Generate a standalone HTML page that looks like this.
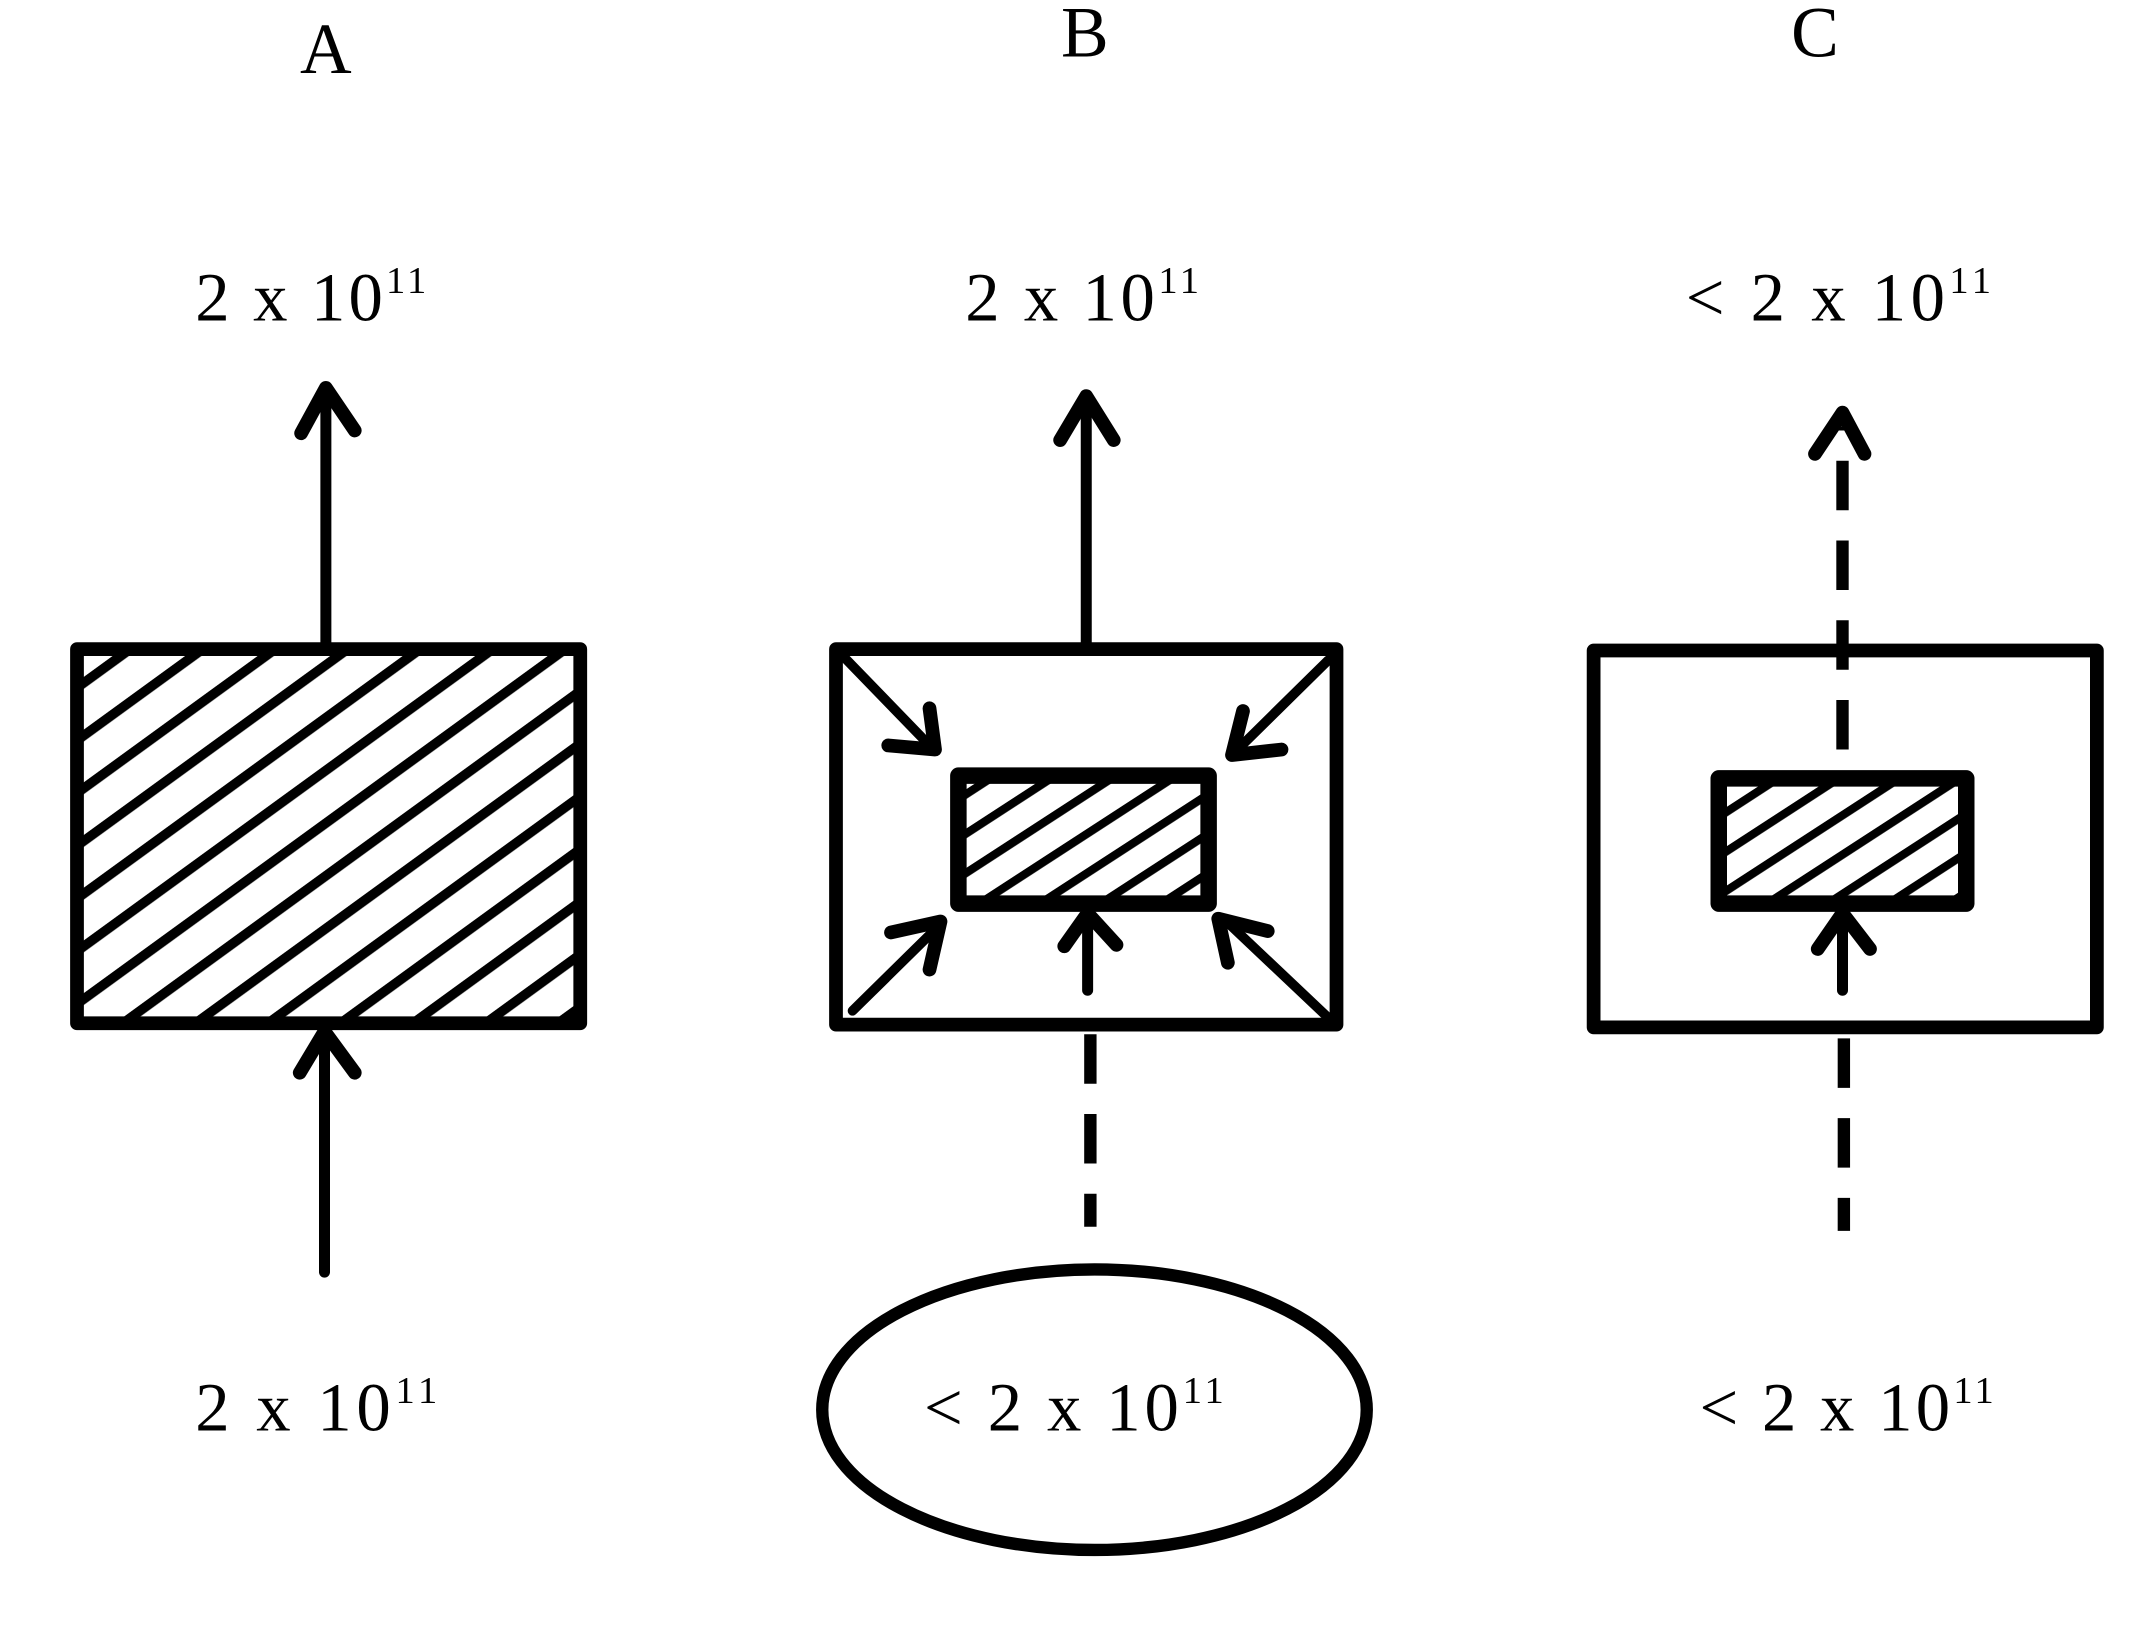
<!DOCTYPE html>
<html><head><meta charset="utf-8"><style>
html,body{margin:0;padding:0;background:#fff;}
svg{display:block;}
text{font-family:"Liberation Serif",serif;fill:#000;}
</style></head><body>
<svg width="2156" height="1638" viewBox="0 0 1568 1191" preserveAspectRatio="none" xmlns="http://www.w3.org/2000/svg">
<defs>
<pattern id="h" patternUnits="userSpaceOnUse" width="31" height="31" patternTransform="rotate(-36)">
<rect width="31" height="31" fill="#fff"/>
<rect x="0" y="0" width="31" height="7" fill="#000"/>
</pattern>
<pattern id="h2" patternUnits="userSpaceOnUse" width="24" height="24" patternTransform="rotate(-33)">
<rect width="24" height="24" fill="#fff"/>
<rect x="0" y="0" width="24" height="6" fill="#000"/>
</pattern>
</defs>
<g font-size="52" text-anchor="middle">
<text x="237" y="53">A</text>
<text x="789" y="41">B</text>
<text x="1320" y="41">C</text>
</g>
<g font-size="50">
<text x="142" y="233" textLength="168" lengthAdjust="spacing">2 x 10<tspan font-size="28" dy="-20">11</tspan></text>
<text x="702" y="233" textLength="170" lengthAdjust="spacing">2 x 10<tspan font-size="28" dy="-20">11</tspan></text>
<text x="1226" y="233" textLength="222" lengthAdjust="spacing">&lt; 2 x 10<tspan font-size="28" dy="-20">11</tspan></text>
<text x="142" y="1040" textLength="176" lengthAdjust="spacing">2 x 10<tspan font-size="28" dy="-20">11</tspan></text>
<text x="672" y="1040" textLength="218" lengthAdjust="spacing">&lt; 2 x 10<tspan font-size="28" dy="-20">11</tspan></text>
<text x="1236" y="1040" textLength="214" lengthAdjust="spacing">&lt; 2 x 10<tspan font-size="28" dy="-20">11</tspan></text>
</g>
<g stroke="#000" fill="none" stroke-linecap="round" stroke-linejoin="round">
<!-- A -->
<rect x="56" y="472" width="366" height="272" fill="url(#h)" stroke-width="10"/>
<line x1="237" y1="468" x2="237" y2="285" stroke-width="8"/>
<polyline points="219,315 237,282 258,313" stroke-width="10"/>
<line x1="236" y1="925" x2="236" y2="752" stroke-width="8"/>
<polyline points="218,780 236,750 258,780" stroke-width="10"/>
<!-- B -->
<rect x="608" y="472" width="364" height="273" stroke-width="10"/>
<rect x="697" y="564" width="182" height="93" fill="url(#h2)" stroke-width="12"/>
<line x1="790" y1="468" x2="790" y2="290" stroke-width="8"/>
<polyline points="771,320 790,288 810,320" stroke-width="10"/>
<line x1="614" y1="478" x2="678" y2="544" stroke-width="7"/>
<polyline points="646,542 680,545 676,515" stroke-width="10"/>
<line x1="966" y1="480" x2="897" y2="548" stroke-width="7"/>
<polyline points="904,517 896,549 932,545" stroke-width="10"/>
<line x1="620" y1="735" x2="684" y2="672" stroke-width="7"/>
<polyline points="648,678 684,670 676,705" stroke-width="10"/>
<line x1="966" y1="740" x2="892" y2="670" stroke-width="7"/>
<polyline points="893,700 886,668 922,677" stroke-width="10"/>
<line x1="791" y1="720" x2="791" y2="668" stroke-width="8"/>
<polyline points="774,688 791,664 812,687" stroke-width="10"/>
<line x1="793" y1="752" x2="793" y2="892" stroke-width="9" stroke-dasharray="36,22" stroke-linecap="butt"/>
<ellipse cx="796" cy="1025" rx="198" ry="102" stroke-width="9"/>
<!-- C -->
<rect x="1159" y="473" width="366" height="274" stroke-width="10"/>
<rect x="1250" y="566" width="180" height="91" fill="url(#h2)" stroke-width="12"/>
<line x1="1340" y1="545" x2="1340" y2="310" stroke-width="9" stroke-dasharray="36,22" stroke-linecap="butt"/>
<polyline points="1320,330 1340,300 1356,330" stroke-width="10"/>
<line x1="1340" y1="720" x2="1340" y2="668" stroke-width="8"/>
<polyline points="1322,690 1340,664 1360,690" stroke-width="10"/>
<line x1="1341" y1="755" x2="1341" y2="895" stroke-width="9" stroke-dasharray="36,22" stroke-linecap="butt"/>
</g>
</svg>
</body></html>
